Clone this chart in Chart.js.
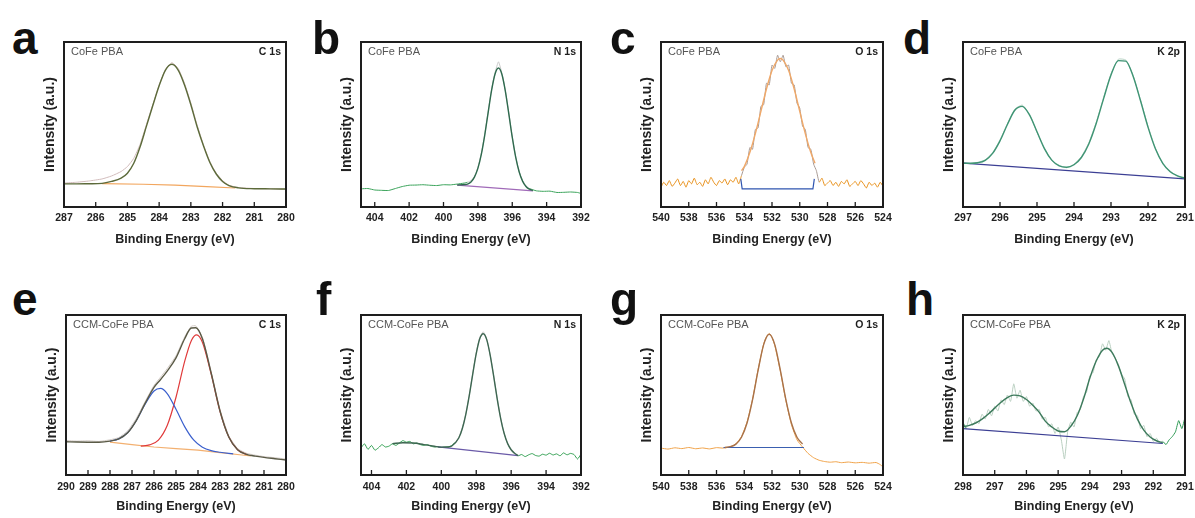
<!DOCTYPE html>
<html>
<head>
<meta charset="utf-8">
<script src="https://cdn.jsdelivr.net/npm/chart.js@4.4.1/dist/chart.umd.min.js"></script>
<style>
  body { margin: 0; background: #fff; width: 1195px; height: 518px; position: relative; overflow: hidden; }
  .panel { position: absolute; }
  .letter { position: absolute; font: bold 46px/46px "Liberation Sans", Arial, sans-serif; color: #111; }
</style>
</head>
<body>
<script>
// ---- data (binding energy in eV, intensity in arbitrary units 0-100) ----

// a: CoFe PBA, C 1s
const aEnergy = [287, 286.6, 286.2, 285.8, 285.5, 285.2, 285, 284.8, 284.6, 284.4, 284.2, 284, 283.8, 283.6, 283.4, 283.2, 283, 282.8, 282.6, 282.4, 282.2, 282, 281.8, 281.5, 281, 280.5, 280];
const aRaw = [14.5, 15, 15.8, 17, 18.8, 21.5, 24.5, 29.5, 38, 50, 62, 74, 83.5, 87.5, 84, 75, 63, 49.5, 37.5, 27.5, 20.5, 16, 13.2, 11.8, 11.2, 11, 10.8];
const aFit = [14, 14, 14.1, 14.3, 15.5, 17.5, 20.5, 26.5, 36.5, 49, 61.5, 73.5, 83, 86.5, 83, 74, 62, 48.5, 37, 27, 20, 15.5, 13, 11.6, 11.1, 11, 10.9];
const aBgEnergy = [285.8, 284.5, 283.5, 282.5, 281.6];
const aBg = [14.2, 13.8, 13.2, 12.3, 11.5];

// b: CoFe PBA, N 1s
const bEnergy = [404.8, 404.4, 404, 403.6, 403.2, 402.8, 402.4, 402, 401.6, 401.2, 400.8, 400.4, 400, 399.6, 399.2, 398.8, 398.6, 398.4, 398.2, 398, 397.8, 397.6, 397.4, 397.2, 397, 396.8, 396.6, 396.4, 396.2, 396, 395.8, 395.6, 395.4, 395.2, 395, 394.6, 394.2, 393.8, 393.4, 393, 392.6, 392.2, 392];
const bRaw = [11, 11.2, 10.3, 10.1, 10, 11.2, 12.4, 13.2, 13.3, 13.5, 13.2, 13, 13.5, 13.4, 13.9, 14.5, 15, 16, 18.5, 24, 32.5, 44, 58, 71.5, 81.5, 88, 81, 70.5, 57, 42.5, 30.5, 21.5, 16, 12.8, 11.2, 9.8, 9.5, 9.6, 8.8, 8.9, 9.1, 8.8, 8.2];
const bFitEnergy = [399.2, 398.8, 398.6, 398.4, 398.2, 398, 397.8, 397.6, 397.4, 397.2, 397, 396.8, 396.6, 396.4, 396.2, 396, 395.8, 395.6, 395.4, 395.2, 395, 394.8];
const bFit = [13.3, 13.6, 13.9, 15.2, 18.1, 23.4, 31.9, 43.6, 57.4, 70.8, 80.6, 84.2, 80.3, 70.1, 56.4, 42.3, 30.2, 21.4, 15.7, 12.4, 10.8, 10];
const bBgEnergy = [399.2, 394.8];
const bBg = [13.3, 9.8];

// c: CoFe PBA, O 1s
const cEnergy = [540, 539.8, 539.6, 539.4, 539.2, 539, 538.8, 538.6, 538.4, 538.2, 538, 537.8, 537.6, 537.4, 537.2, 537, 536.8, 536.6, 536.4, 536.2, 536, 535.8, 535.6, 535.4, 535.2, 535, 534.8, 534.6, 534.4,
  534.2, 534, 533.8, 533.6, 533.4, 533.2, 533, 532.8, 532.6, 532.4, 532.2, 532, 531.8, 531.6, 531.4, 531.2, 531, 530.8, 530.6, 530.4, 530.2, 530, 529.8, 529.6, 529.4, 529.2, 529, 528.8,
  528.6, 528.4, 528.2, 528, 527.8, 527.6, 527.4, 527.2, 527, 526.8, 526.6, 526.4, 526.2, 526, 525.8, 525.6, 525.4, 525.2, 525, 524.8, 524.6, 524.4, 524.2, 524];
const cRaw = [12, 15, 13, 16, 12.5, 14.5, 17, 13, 15.5, 12, 16, 14, 17.5, 13.5, 15, 12.5, 16.5, 14, 18, 15, 13, 16, 14.5, 17, 13.5, 16.5, 15, 18, 14,
  19, 24, 26, 36, 35, 47, 48, 61, 62, 75, 74, 86, 84, 92, 88, 92, 85, 86, 75, 74, 63, 60, 49, 47, 36, 35, 26, 22,
  15, 17.5, 13, 14.5, 16, 13, 15, 12.5, 15.5, 14, 16.5, 12.5, 14, 15.5, 13, 16, 14, 11.5, 15, 13, 14.5, 12, 15, 12.5];
const cFitEnergy = [534.2, 534, 533.6, 533.2, 532.8, 532.4, 532, 531.6, 531.4, 531.2, 530.8, 530.4, 530, 529.6, 529.2, 528.9];
const cFit = [22, 24.5, 33, 44.5, 58, 71.5, 82.7, 89, 90, 89, 82.7, 71.5, 58, 44.5, 33, 26.5];
const cBgEnergy = [534.25, 534.15, 529.05, 528.95];
const cBg = [17, 11, 11, 17];

// d: CoFe PBA, K 2p
const dEnergy = [297, 296.8, 296.6, 296.4, 296.2, 296, 295.8, 295.6, 295.4, 295.2, 295, 294.8, 294.6, 294.4, 294.2, 294, 293.8, 293.6, 293.4, 293.2, 293, 292.8, 292.6, 292.4, 292.2, 292, 291.8, 291.6, 291.4, 291.2, 291];
const dRaw = [26.9, 26.2, 27.1, 28.6, 32.9, 40.6, 50.4, 59.3, 61.8, 56.1, 45.2, 35.8, 28.1, 25.3, 23.8, 25.9, 30.5, 38.9, 51.2, 66.4, 80.8, 89.6, 89.1, 79.6, 64.7, 48.9, 35.7, 26.1, 21.8, 18.5, 17.2];
const dFit = [26.6, 26.5, 26.8, 28.3, 32.5, 40.1, 50, 58.6, 61, 55.7, 45.6, 35.4, 28.4, 24.9, 24.1, 25.6, 30, 38.2, 50.6, 65.7, 80, 88.7, 88.4, 79.1, 64.2, 48.4, 35.3, 26.5, 21.4, 18.8, 17.5];
const dBgEnergy = [297, 291];
const dBg = [26.6, 17];

// e: CCM-CoFe PBA, C 1s
const eEnergy = [290, 289.5, 289, 288.5, 288, 287.6, 287.2, 286.8, 286.4, 286, 285.7, 285.4, 285, 284.6, 284.3, 284.1, 283.8, 283.4, 283, 282.6, 282.2, 281.8, 281.4, 281, 280.5, 280];
const eRaw = [21.6, 21.2, 21.4, 21, 22, 23.4, 27.5, 35.5, 46, 56, 61.2, 66.5, 74.5, 86.5, 93, 93.2, 86, 64.5, 41, 24.5, 16.5, 13.6, 12.4, 11.5, 10.8, 10];
const eFit = [20.8, 20.6, 20.5, 20.5, 21.2, 22.6, 26.4, 34.2, 44.9, 54.8, 59.7, 64.9, 73.2, 85.3, 91.9, 92, 85.1, 63.6, 40, 23.7, 15.8, 12.9, 11.8, 11, 10.2, 9.4];
const eBlueEnergy = [288, 287.6, 287.2, 286.8, 286.4, 286, 285.7, 285.4, 285, 284.6, 284.2, 283.8, 283.4, 283, 282.4];
const eBlue = [21.2, 22.6, 26.4, 34.1, 44.4, 52.5, 54.1, 50.9, 41.1, 30.1, 21.9, 17.4, 15.2, 14.2, 13.2];
const eRedEnergy = [286.6, 286.2, 285.8, 285.4, 285, 284.6, 284.3, 284.06, 283.8, 283.4, 283, 282.6, 282.2, 281.8];
const eRed = [18.1, 18.8, 21.8, 30.9, 48.6, 71.3, 84.1, 87.6, 82.9, 63, 39.8, 23.7, 15.8, 12.9];
const eBgEnergy = [288, 287, 286, 285, 284, 283, 282, 281.6];
const eBg = [20.5, 19, 17.5, 16.5, 15.5, 14, 12.5, 12];

// f: CCM-CoFe PBA, N 1s
const fEnergy = [404.6, 404.4, 404.2, 404, 403.8, 403.6, 403.4, 403.2, 403, 402.8, 402.6, 402.4, 402.2, 402, 401.8, 401.6, 401.4, 401.2, 401, 400.8,
  400.6, 400.4, 400.2, 400, 399.8, 399.6, 399.4, 399.2, 399, 398.8, 398.6, 398.4, 398.2, 398, 397.8, 397.6, 397.4, 397.2, 397, 396.8,
  396.6, 396.4, 396.2, 396, 395.8, 395.6, 395.4, 395.2, 395, 394.8, 394.6, 394.4, 394.2, 394, 393.8, 393.6, 393.4, 393.2, 393, 392.8,
  392.6, 392.4, 392.2, 392];
const fRaw = [17, 19.5, 16, 18.5, 15.5, 17, 19, 17.5, 18, 19.5, 18.5, 20, 21.5, 20.5, 21, 19.5, 20, 19, 18.5, 19,
  18, 17.5, 17.8, 17.2, 17.5, 17.6, 18.4, 20.5, 23.5, 29.5, 38, 50, 63.5, 76.5, 86, 89.5, 85, 75, 62, 48,
  35.5, 26, 19.5, 15.5, 13, 12, 12.8, 11.5, 12.6, 13.4, 12.2, 11.8, 13, 12.4, 13.6, 12.5, 13.2, 12, 13.8, 12.6,
  13.5, 12.8, 10, 13];
const fFitEnergy = [402.8, 402.2, 401.6, 401, 400.4, 400, 399.6, 399.4, 399, 398.8, 398.6, 398.4, 398.2, 398, 397.8, 397.6, 397.4, 397.2, 397, 396.8, 396.6, 396.4, 396.2, 396, 395.8, 395.6];
const fFit = [19.6, 20.2, 20, 19, 18, 17.4, 17.5, 18.1, 23.1, 28.9, 37.8, 49.6, 63.1, 75.8, 85.1, 88.3, 84.6, 74.8, 61.6, 47.6, 35.3, 25.9, 19.6, 15.8, 13.6, 12.2];
const fBgEnergy = [400.2, 395.6];
const fBg = [17.6, 12.1];

// g: CCM-CoFe PBA, O 1s
const gEnergy = [540, 539.5, 539, 538.5, 538, 537.5, 537, 536.5, 536, 535.5, 535, 534.6, 534.2, 533.8, 533.4, 533, 532.6, 532.4, 532.2, 532, 531.8, 531.4, 531, 530.6, 530.2, 529.8, 529.4, 529, 528.6, 528.2, 527.8, 527.4, 527, 526.5, 526, 525.5, 525, 524.5, 524.2, 524];
const gRaw = [16.8, 16.2, 17, 16.5, 17.2, 16.4, 16.9, 16.3, 17.1, 16.8, 17.6, 19.5, 24, 33, 47.5, 66, 82, 86.5, 88.5, 86, 81, 65, 46.5, 31.5, 22, 17.5, 13.5, 10.8, 9.2, 8.4, 8, 8.3, 7.7, 8.1, 7.6, 7.9, 7.4, 7.8, 6.5, 5];
const gFitEnergy = [535.4, 535, 534.6, 534.2, 533.8, 533.4, 533, 532.6, 532.2, 531.8, 531.4, 531, 530.6, 530.2, 529.8];
const gFit = [17.2, 17.7, 19.3, 23.6, 32.5, 47.1, 65.5, 81.5, 88, 81.5, 65.5, 47.1, 32.5, 23.6, 19.3];
const gBgEnergy = [535.5, 529.7];
const gBg = [17.2, 17.2];

// h: CCM-CoFe PBA, K 2p
const hEnergy = [298, 297.9, 297.8, 297.7, 297.6, 297.5, 297.4, 297.3, 297.2, 297.1, 297, 296.9, 296.8, 296.7, 296.6, 296.5, 296.4, 296.3, 296.2, 296.1,
  296, 295.9, 295.8, 295.7, 295.6, 295.5, 295.4, 295.3, 295.2, 295.1, 295, 294.9, 294.8, 294.7, 294.6, 294.5, 294.4, 294.3, 294.2, 294.1,
  294, 293.9, 293.8, 293.7, 293.6, 293.5, 293.4, 293.3, 293.2, 293.1, 293, 292.9, 292.8, 292.7, 292.6, 292.5, 292.4, 292.3, 292.2, 292.1,
  292, 291.9, 291.8, 291.7, 291.6, 291.5, 291.4, 291.3, 291.2, 291.1, 291];
const hRaw = [33, 29, 36, 31, 34, 32, 38, 35, 41, 37, 43, 40, 47, 44, 50, 46, 57, 48, 53, 46,
  49, 43, 45, 40, 41, 35, 36, 30, 32, 26, 30, 22, 10, 27, 33, 30, 39, 41, 49, 52,
  62, 64, 72, 74, 82, 78, 84, 76, 73, 69, 63, 60, 49, 47, 38, 37, 29, 31, 24, 26,
  21, 23, 20, 21, 19, 22, 24, 27, 34, 29, 36];
const hFitEnergy = [298, 297.8, 297.6, 297.4, 297.2, 297, 296.8, 296.6, 296.4, 296.2, 296, 295.8, 295.6, 295.4, 295.2, 295, 294.8, 294.6, 294.4, 294.2, 294, 293.8, 293.6, 293.47, 293.3, 293.1, 292.9, 292.7, 292.5, 292.3, 292.1, 291.9, 291.7];
const hFit = [30.2, 31, 32.5, 34.9, 38.1, 41.8, 45.5, 48.4, 49.9, 49.5, 47.2, 43.6, 39.3, 33.5, 30, 27.5, 27, 30.5, 37, 47.5, 60.6, 71.2, 78, 79.2, 76.6, 68.2, 56.6, 44.8, 34.9, 28, 23.7, 21.4, 20.2];
const hBgEnergy = [298, 291.7];
const hBg = [29, 19.7];

// ---- helpers ----
const FONT = '"Liberation Sans", Arial, sans-serif';
const pts = (xs, ys) => xs.map((x, i) => ({ x: x, y: ys[i] }));

function raw(xs, ys, color, inside) {
  const ds = { data: pts(xs, ys), borderColor: color, borderWidth: 1, tension: 0.15, order: 4 };
  if (inside) {
    ds.segment = {
      borderColor: ctx => (ctx.p0.parsed.x <= inside[1] && ctx.p0.parsed.x >= inside[0]) ? inside[2] : undefined
    };
  }
  return ds;
}
function fit(xs, ys, color, order, width) {
  return { data: pts(xs, ys), borderColor: color, borderWidth: width || 1.4, cubicInterpolationMode: 'monotone', order: order || 1 };
}
function line(xs, ys, color) {
  return { data: pts(xs, ys), borderColor: color, borderWidth: 1.2, tension: 0, order: 3 };
}

// frame, inward ticks and corner labels
const framePlugin = {
  id: 'frame',
  afterDatasetsDraw(chart, args, opts) {
    const { ctx, chartArea: a, scales: { x } } = chart;
    ctx.save();
    ctx.strokeStyle = '#1e1e1e';
    ctx.lineWidth = 2;
    ctx.strokeRect(a.left, a.top, a.right - a.left, a.bottom - a.top);

    const vals = x.ticks.map(t => t.value);
    const step = vals[1] - vals[0];
    ctx.lineWidth = 1.3;
    ctx.beginPath();
    vals.forEach(v => {
      const px = x.getPixelForValue(v);
      ctx.moveTo(px, a.bottom);
      ctx.lineTo(px, a.bottom - 5);
    });
    for (let v = vals[0] - step; v <= vals[vals.length - 1]; v += step) {
      const m = v + step / 2;
      if (m < x.min || m > x.max) continue;
      const px = x.getPixelForValue(m);
      ctx.moveTo(px, a.bottom);
      ctx.lineTo(px, a.bottom - 3);
    }
    ctx.stroke();

    ctx.textBaseline = 'middle';
    ctx.fillStyle = '#555';
    ctx.font = '11px ' + FONT;
    ctx.textAlign = 'left';
    ctx.fillText(opts.sample, a.left + 7, a.top + 10);
    ctx.fillStyle = '#1e1e1e';
    ctx.font = 'bold 10.5px ' + FONT;
    ctx.textAlign = 'right';
    ctx.fillText(opts.element, a.right - 5, a.top + 10);
    ctx.restore();
  }
};

// ---- panels ----
const TOP = { top: 42, bottom: 207, xh: 45, tickPad: 5, titlePad: 4.5 };
const BOT = { top: 315, bottom: 475, xh: 42, tickPad: 6, titlePad: 2.5 };

const panels = [
  { letter: 'a', lx: 12, row: TOP, left: 64, right: 286, min: 280, max: 287, step: 1, sample: 'CoFe PBA', element: 'C 1s',
    datasets: [raw(aEnergy, aRaw, '#d2bcbc'), line(aBgEnergy, aBg, '#f2a65e'), fit(aEnergy, aFit, '#5c6a3a')] },
  { letter: 'b', lx: 312, row: TOP, left: 361, right: 581, min: 392, max: 404.8, step: 2, sample: 'CoFe PBA', element: 'N 1s',
    datasets: [raw(bEnergy, bRaw, '#3aa35a', [395.2, 398.6, '#c8c8c8']), line(bBgEnergy, bBg, '#a06ab8'), fit(bFitEnergy, bFit, '#2f6a4e')] },
  { letter: 'c', lx: 610, row: TOP, left: 661, right: 883, min: 524, max: 540, step: 2, sample: 'CoFe PBA', element: 'O 1s',
    datasets: [raw(cEnergy, cRaw, '#e8921e', [528.8, 534.2, '#a89a94']), line(cBgEnergy, cBg, '#2f55b0'), fit(cFitEnergy, cFit, '#f0a868')] },
  { letter: 'd', lx: 903, row: TOP, left: 963, right: 1185, min: 291, max: 297, step: 1, sample: 'CoFe PBA', element: 'K 2p',
    datasets: [raw(dEnergy, dRaw, '#b9d4c6'), line(dBgEnergy, dBg, '#3c3f94'), fit(dEnergy, dFit, '#3f9474')] },
  { letter: 'e', lx: 12, row: BOT, left: 66, right: 286, min: 280, max: 290, step: 1, sample: 'CCM-CoFe PBA', element: 'C 1s',
    datasets: [raw(eEnergy, eRaw, '#d3cbc6'), line(eBgEnergy, eBg, '#f3b070'),
      fit(eBlueEnergy, eBlue, '#3a5fcd', 2, 1.2), fit(eRedEnergy, eRed, '#e03a3a', 2, 1.2), fit(eEnergy, eFit, '#5a5a46')] },
  { letter: 'f', lx: 316, row: BOT, left: 361, right: 581, min: 392, max: 404.6, step: 2, sample: 'CCM-CoFe PBA', element: 'N 1s',
    datasets: [raw(fEnergy, fRaw, '#2f9e4f', [395.8, 399.2, '#c5c5c5']), line(fBgEnergy, fBg, '#6a5aa8'), fit(fFitEnergy, fFit, '#3d6651')] },
  { letter: 'g', lx: 610, row: BOT, left: 661, right: 883, min: 524, max: 540, step: 2, sample: 'CCM-CoFe PBA', element: 'O 1s',
    datasets: [raw(gEnergy, gRaw, '#f0a34a'), line(gBgEnergy, gBg, '#3a5fb0'), fit(gFitEnergy, gFit, '#a8724a')] },
  { letter: 'h', lx: 906, row: BOT, left: 963, right: 1185, min: 291, max: 298, step: 1, sample: 'CCM-CoFe PBA', element: 'K 2p',
    datasets: [raw(hEnergy, hRaw, '#2f9a55', [291.8, 297.9, '#b9cfc0']), line(hBgEnergy, hBg, '#3c3f94'), fit(hFitEnergy, hFit, '#3d7a5c')] }
];

const Y_AXIS_W = 26, PAD_TOP = 4, PAD_RIGHT = 16;

panels.forEach(p => {
  const r = p.row;
  const boxLeft = p.left - Y_AXIS_W;
  const boxTop = r.top - PAD_TOP;
  const w = p.right + PAD_RIGHT - boxLeft;
  const h = r.bottom + r.xh - boxTop;

  const div = document.createElement('div');
  div.className = 'panel';
  div.style.left = boxLeft + 'px';
  div.style.top = boxTop + 'px';
  div.style.width = w + 'px';
  div.style.height = h + 'px';
  const canvas = document.createElement('canvas');
  canvas.width = w;
  canvas.height = h;
  div.appendChild(canvas);
  document.body.appendChild(div);

  const letter = document.createElement('div');
  letter.className = 'letter';
  letter.textContent = p.letter;
  letter.style.left = p.lx + 'px';
  letter.style.top = (r === TOP ? 15 : 276) + 'px';
  document.body.appendChild(letter);

  new Chart(canvas, {
    type: 'line',
    data: { datasets: p.datasets },
    options: {
      responsive: false,
      animation: false,
      events: [],
      layout: { padding: { top: PAD_TOP, right: PAD_RIGHT, left: 0, bottom: 0 } },
      elements: { point: { radius: 0 } },
      plugins: {
        legend: { display: false },
        tooltip: { enabled: false },
        frame: { sample: p.sample, element: p.element }
      },
      scales: {
        x: {
          type: 'linear',
          reverse: true,
          min: p.min,
          max: p.max,
          grid: { display: false, drawTicks: false },
          border: { display: false },
          ticks: {
            stepSize: p.step,
            includeBounds: false,
            autoSkip: false,
            maxRotation: 0,
            padding: r.tickPad,
            color: '#222',
            font: { family: '"Liberation Sans Narrow", ' + FONT, weight: 'bold', size: 10.5 }
          },
          title: {
            display: true,
            text: 'Binding Energy (eV)',
            color: '#222',
            font: { family: FONT, weight: 'bold', size: 12.5 },
            padding: { top: 0, bottom: r.titlePad }
          },
          afterFit: s => { s.height = r.xh; }
        },
        y: {
          min: 0,
          max: 100,
          grid: { display: false, drawTicks: false },
          border: { display: false },
          ticks: { display: false },
          title: {
            display: true,
            text: 'Intensity (a.u.)',
            color: '#222',
            font: { family: FONT, weight: 'bold', size: 14 },
            padding: { top: 4, bottom: 0 }
          },
          afterFit: s => { s.width = Y_AXIS_W; }
        }
      }
    },
    plugins: [framePlugin]
  });
});
</script>
</body>
</html>
